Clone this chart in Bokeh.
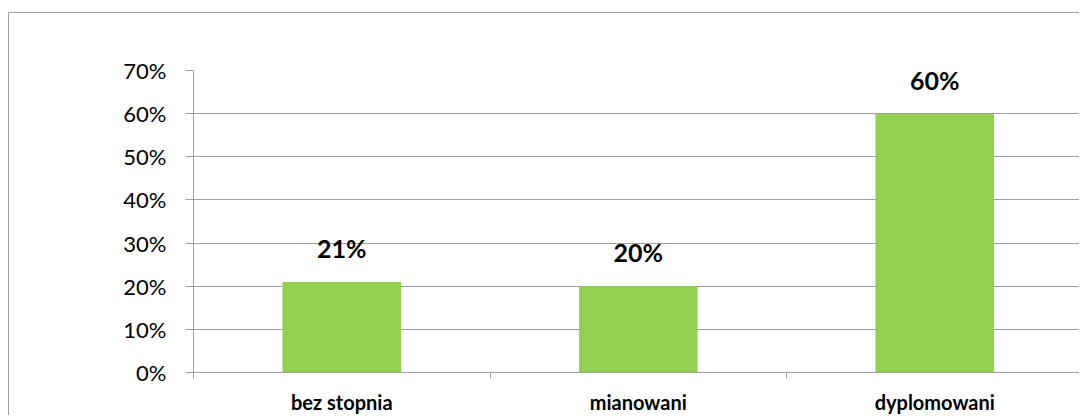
from bokeh.plotting import figure
from bokeh.models import Range1d, FixedTicker, NumeralTickFormatter, ColumnDataSource
from bokeh.core.properties import value
from bokeh.embed import file_html
from bokeh.resources import INLINE

categories = ["bez stopnia", "mianowani", "dyplomowani"]
shares = [0.21, 0.20, 0.60]
y_ticks = [0.0, 0.1, 0.2, 0.3, 0.4, 0.5, 0.6, 0.7]

GRAY = "#a0a0a0"
GREEN = "#92D050"

n = len(categories)
xs = list(range(1, n + 1))
labels = [f"{round(v * 100)}%" for v in shares]
src = ColumnDataSource(dict(x=xs, top=shares, label=labels, cat=categories))

p = figure(width=1071, height=403,
           x_range=Range1d(0.5, 0.5 + 887 / 296.5), y_range=Range1d(0, 0.7),
           output_backend="svg", toolbar_location=None,
           min_border_left=184, min_border_right=0,
           min_border_top=57, min_border_bottom=43)
p.styles = {"border-left": f"1px solid {GRAY}", "border-top": f"1px solid {GRAY}",
            "margin-top": "12px", "margin-left": "8px"}
p.outline_line_color = None
p.background_fill_color = "white"
p.border_fill_color = "white"

p.vbar(x="x", top="top", width=0.4, bottom=0, source=src,
       fill_color=GREEN, line_color=None)
p.text(x="x", y="top", text="label", source=src,
       text_align="center", text_baseline="middle", y_offset=-34,
       text_font=value("Lato"), text_font_style="bold",
       text_font_size="25px", text_color="black")

p.xgrid.visible = False
p.ygrid.grid_line_color = GRAY
p.ygrid.ticker = FixedTicker(ticks=y_ticks)

ya = p.yaxis[0]
ya.ticker = FixedTicker(ticks=y_ticks)
ya.formatter = NumeralTickFormatter(format="0%")
ya.axis_line_color = GRAY
ya.major_tick_line_color = GRAY
ya.major_tick_out = 8
ya.major_tick_in = 0
ya.minor_tick_line_color = None
ya.major_label_standoff = 19
ya.major_label_text_font = "Lato"
ya.major_label_text_font_size = "22px"
ya.major_label_text_color = "black"

xa = p.xaxis[0]
xa.ticker = FixedTicker(ticks=xs, minor_ticks=[i + 0.5 for i in range(0, n + 1)])
xa.major_label_overrides = {x: c for x, c in zip(xs, categories)}
xa.axis_line_color = GRAY
xa.major_tick_line_color = None
xa.major_tick_out = 0
xa.major_tick_in = 0
xa.minor_tick_line_color = GRAY
xa.minor_tick_out = 6
xa.minor_tick_in = 0
xa.major_label_standoff = 11
xa.major_label_text_font = "Lato"
xa.major_label_text_font_style = "bold"
xa.major_label_text_font_size = "20px"
xa.major_label_text_color = "black"

open("out.html", "w").write(file_html(p, INLINE))
